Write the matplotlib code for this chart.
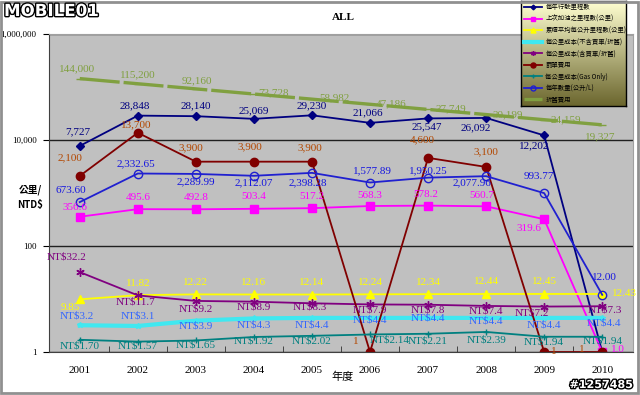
import numpy as np
import matplotlib.pyplot as plt
import matplotlib.patheffects as pe
from matplotlib.patches import Rectangle
from matplotlib.ticker import FixedLocator, FuncFormatter

years = ['2001', '2002', '2003', '2004', '2005', '2006', '2007', '2008', '2009', '2010']

# 每年行駛里程數
km_year = [7727, 28848, 28140, 25069, 29230, 21066, 25547, 26092, 12202, 1]
# 上次加油之里程數(公里)
km_fill = [356.6, 495.6, 492.8, 503.4, 517.2, 568.3, 578.2, 560.7, 319.6, 1.0]
# 累積平均每公升里程數(公里)
km_per_l = [9.85, 11.82, 12.22, 12.16, 12.14, 12.24, 12.34, 12.44, 12.45, 12.43]
# 每公里成本(不含買車/折舊)
cost_no_car = [3.2, 3.1, 3.9, 4.3, 4.4, 4.4, 4.4, 4.4, 4.4, 4.4]
# 每公里成本(含買車/折舊)
cost_car = [32.2, 11.7, 9.2, 8.9, 8.3, 7.9, 7.8, 7.4, 7.2, 7.3]
# 罰單費用
fines = [2100, 13700, 3900, 3900, 3900, 1, 4600, 3100, 1, 1]
# 每公里成本(Gas Only)
cost_gas = [1.70, 1.57, 1.65, 1.92, 2.02, 2.14, 2.21, 2.39, 1.94, 1.94]
# 每年數量(公升/L)
liters = [673.60, 2332.65, 2289.99, 2112.07, 2398.28, 1577.89, 1950.25, 2077.96, 993.77, 12.00]
# 折舊費用
depreciation = [144000, 115200, 92160, 73728, 58982, 47186, 37749, 30199, 24159, 19327]

cjk = ['Noto Sans CJK TC', 'DejaVu Sans']
serif = ['Liberation Serif', 'DejaVu Serif']

fig = plt.figure(figsize=(6.4, 3.95), dpi=100)
ax = fig.add_axes([49 / 640, 43 / 395, 584 / 640, 318 / 395])
ax.set_facecolor('#c0c0c0')
x = np.arange(1, len(years) + 1)

# (data, label, color, label color, style kwargs, text format, offsets in px)
series = [
    (km_year, '每年行駛里程數', '#000080', '#000080',
     dict(marker='D', ms=4, lw=1.3),
     lambda v: '{:,.0f}'.format(v),
     [(-2, 14), (-3, 10), (0, 10), (0, 8), (0, 10), (-2, 10), (-1, -8), (-10, -10), (-10, -10), None]),
    (km_fill, '上次加油之里程數(公里)', '#ff00ff', '#ff00ff',
     dict(marker='s', ms=6, lw=1.3),
     lambda v: '{:.1f}'.format(v),
     [(-5, 9), (0, 12), (0, 12), (0, 12), (0, 12), (0, 11), (-2, 11), (-4, 11), (-15, -9), (16, 2)]),
    (km_per_l, '累積平均每公升里程數(公里)', '#ffff00', '#ffff00',
     dict(marker='^', ms=6, lw=1.3),
     lambda v: '{:.2f}'.format(v),
     [(-10, -8), (0, 12), (0, 12), (0, 12), (0, 12), (0, 12), (0, 12), (0, 12), (0, 12), (22, 0)]),
    (cost_no_car, '每公里成本(不含買車/折舊)', '#40e8f0', '#3366ff',
     dict(marker='*', ms=4, lw=3.0),
     lambda v: 'NT${:.1f}'.format(v),
     [(-3, 9), (0, 10), (0, -5), (0, -7), (0, -7), (0, -2), (0, 0), (0, -3), (0, -7), (2, -5)]),
    (cost_car, '每公里成本(含買車/折舊)', '#800080', '#800080',
     dict(marker=(6, 2, 0), ms=6, lw=1.3),
     lambda v: 'NT${:.1f}'.format(v),
     [(-13, 15), (-2, -7), (0, -8), (0, -5), (-2, -4), (0, -6), (0, -5), (0, -5), (-12, -6), (3, -4)]),
    (fines, '罰單費用', '#800000', '#b34700',
     dict(marker='o', ms=6, lw=1.3),
     lambda v: '{:,.0f}'.format(v),
     [(-10, 18), (-2, 8), (-5, 14), (-4, 15), (-2, 14), (-14, 10), (-6, 18), (0, 15), (10, 0), (-20, 3)]),
    (cost_gas, '每公里成本(Gas Only)', '#008080', '#008080',
     dict(marker='+', ms=5, lw=1.3),
     lambda v: 'NT${:.2f}'.format(v),
     [(0, -6), (0, -4), (0, -5), (0, -4), (0, -5), (20, -6), (0, -7), (0, -8), (0, -5), (0, -4)]),
    (liters, '每年數量(公升/L)', '#2020d0', '#1515e0',
     dict(marker='o', ms=6, lw=1.3, mfc='none'),
     lambda v: '{:,.2f}'.format(v),
     [(-9, 12), (-2, 10), (0, -8), (0, -7), (-4, -10), (2, 12), (0, 7), (-14, -7), (-5, 17), (2, 17)]),
    (depreciation, '折舊費用', '#80a040', '#80a040',
     dict(marker='_', ms=6, lw=2.4, ls=(0, (12, 1.2))),
     lambda v: '{:,.0f}'.format(v),
     [(-3, 10), (0, 9), (1, 8), (20, 1), (22, 1), (21, 1), (23, 1), (22, 0), (22, 0), (-2, -12)]),
]

for data, name, color, tcolor, style, fmt, offs in series:
    ax.plot(x, data, color=color, label=name, mec=color, **style)
    for xi, v, off in zip(x, data, offs):
        if off is None:
            continue
        ax.annotate(fmt(v), (xi, v), xytext=off, textcoords='offset pixels',
                    ha='center', va='center', color=tcolor, fontsize=8,
                    family=serif, zorder=5)

ax.set_yscale('log')
ax.set_ylim(1, 1e6)
ax.set_xlim(0.47, len(years) + 0.53)
ax.yaxis.set_major_locator(FixedLocator([1, 100, 1e4, 1e6]))
ax.yaxis.set_minor_locator(FixedLocator([]))
ax.yaxis.set_major_formatter(FuncFormatter(lambda v, p: '{:,.0f}'.format(v)))
ax.set_xticks(x)
ax.set_xticklabels(years)
ax.set_xticks(np.arange(1.5, len(years)), minor=True)
ax.tick_params(axis='x', which='major', length=0, pad=10, labelsize=8)
ax.tick_params(axis='x', which='minor', length=4, direction='in', color='#303030')
ax.tick_params(axis='y', length=4, direction='out', labelsize=6.5, pad=5)
for lab in ax.get_xticklabels() + ax.get_yticklabels():
    lab.set_family(serif)
ax.grid(axis='y', which='major', color='#202020', lw=1)
ax.set_axisbelow(True)
for s in ['top', 'right']:
    ax.spines[s].set_color('#a0a0a0')
ax.spines['left'].set_color('#404040')
ax.spines['bottom'].set_color('#404040')

fig.text(343 / 640, 1 - 17 / 395, 'ALL', ha='center', va='center', fontsize=8,
         fontweight='bold', family=serif)
fig.text(343 / 640, 1 - 377 / 395, '年度', ha='center', va='center', fontsize=8,
         family=cjk)
fig.text(30 / 640, 1 - 197 / 395, '公里/\nNTD$', ha='center', va='center', fontsize=7,
         fontweight='bold', family=cjk, linespacing=1.6)

# legend with yellow-olive gradient background
lax = fig.add_axes([521 / 640, 1 - 106 / 395, 105 / 640, 105 / 395])
grad = np.linspace(0, 1, 100)[:, None]
c_top = np.array([1.0, 1.0, 0.82])
c_bot = np.array([0.42, 0.40, 0.18])
img = c_top[None, None, :] * (1 - grad[:, :, None]) + c_bot[None, None, :] * grad[:, :, None]
lax.imshow(img, aspect='auto', extent=(0, 1, 0, 1))
lax.set_xticks([])
lax.set_yticks([])
for s in lax.spines.values():
    s.set_color('black')
    s.set_linewidth(1)
handles, labels = ax.get_legend_handles_labels()
leg = lax.legend(handles, labels, loc='center left', frameon=False,
                 prop={'family': cjk, 'size': 4.6}, labelspacing=0.55,
                 handlelength=2.8, handletextpad=0.5, borderaxespad=0.1,
                 markerscale=0.6)

# watermark / logo
fig.text(4 / 640, 1 - 11 / 395, 'MOBILE01', ha='left', va='center', fontsize=12,
         fontweight='bold', family='DejaVu Sans', color='white',
         path_effects=[pe.withStroke(linewidth=2, foreground='black')])
fig.text(633 / 640, 1 - 385 / 395, '#1257485', ha='right', va='center', fontsize=8,
         fontweight='bold', family='DejaVu Sans', color='white',
         path_effects=[pe.withStroke(linewidth=2, foreground='black')])

fig.patches.append(Rectangle((0.002, 0.004), 0.995, 0.992, transform=fig.transFigure,
                             fill=False, ec='#909090', lw=2))

fig.savefig('out.png', dpi=100)
